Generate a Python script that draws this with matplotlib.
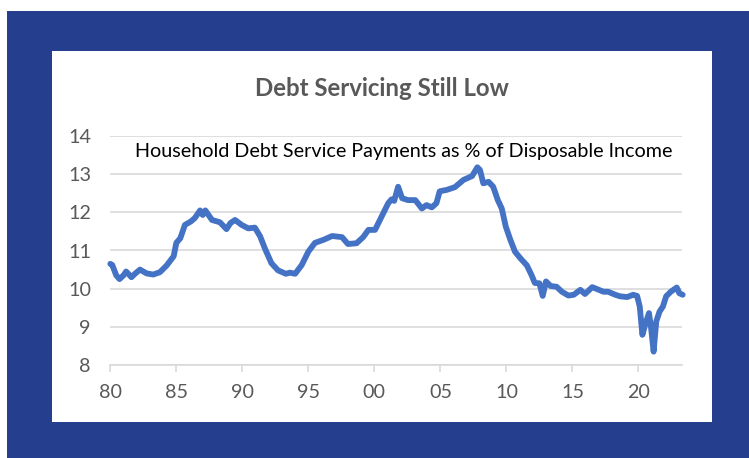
import matplotlib
matplotlib.use("Agg")
import matplotlib.pyplot as plt
from matplotlib.patches import Rectangle

# ---- data ----
years = [1980.0, 1980.15, 1980.45, 1980.7, 1981.0, 1981.2, 1981.6, 1981.9, 1982.25, 1982.75,
         1983.25, 1983.75, 1984.25, 1984.8, 1985.0, 1985.3, 1985.65, 1986.1, 1986.4, 1986.8,
         1987.0, 1987.2, 1987.7, 1988.3, 1988.8, 1989.1, 1989.45, 1989.95, 1990.45, 1990.95,
         1991.35, 1991.7, 1992.2, 1992.7, 1993.3, 1993.6, 1994.0, 1994.5, 1995.0, 1995.5,
         1996.15, 1996.8, 1997.55, 1998.0, 1998.65, 1999.15, 1999.55, 2000.05, 2000.55, 2001.05,
         2001.3, 2001.5, 2001.8, 2002.1, 2002.55, 2003.1, 2003.6, 2003.95, 2004.35, 2004.7,
         2004.95, 2005.5, 2006.1, 2006.75, 2007.4, 2007.8, 2008.0, 2008.25, 2008.65, 2009.0,
         2009.35, 2009.65, 2009.95, 2010.3, 2010.65, 2011.05, 2011.55, 2011.9, 2012.15, 2012.5,
         2012.75, 2013.0, 2013.35, 2013.8, 2014.2, 2014.7, 2015.1, 2015.6, 2015.95, 2016.5,
         2017.0, 2017.35, 2017.7, 2018.25, 2018.6, 2019.15, 2019.6, 2019.9, 2020.1, 2020.3,
         2020.55, 2020.8, 2020.95, 2021.15, 2021.35, 2021.6, 2021.85, 2022.1, 2022.45, 2022.9,
         2023.1, 2023.35]
values = [10.65, 10.62, 10.35, 10.25, 10.35, 10.45, 10.30, 10.40, 10.50, 10.40,
          10.37, 10.43, 10.60, 10.85, 11.20, 11.32, 11.67, 11.76, 11.85, 12.05,
          11.93, 12.05, 11.80, 11.74, 11.56, 11.72, 11.80, 11.67, 11.58, 11.60,
          11.37, 11.06, 10.67, 10.48, 10.39, 10.42, 10.39, 10.62, 10.97, 11.20,
          11.28, 11.38, 11.35, 11.17, 11.19, 11.35, 11.54, 11.54, 11.89, 12.24,
          12.34, 12.30, 12.67, 12.37, 12.32, 12.32, 12.10, 12.19, 12.13, 12.24,
          12.55, 12.59, 12.66, 12.85, 12.95, 13.18, 13.11, 12.76, 12.80, 12.67,
          12.32, 12.10, 11.63, 11.28, 10.97, 10.80, 10.61, 10.36, 10.15, 10.14,
          9.81, 10.19, 10.07, 10.05, 9.92, 9.82, 9.84, 9.97, 9.86, 10.04,
          9.97, 9.92, 9.92, 9.84, 9.80, 9.78, 9.84, 9.81, 9.53, 8.79,
          9.10, 9.36, 9.00, 8.35, 9.14, 9.40, 9.53, 9.80, 9.92, 10.03,
          9.88, 9.84]

xtick_years = [1980, 1985, 1990, 1995, 2000, 2005, 2010, 2015, 2020]
xtick_labels = ["80", "85", "90", "95", "00", "05", "10", "15", "20"]
yticks = [8, 9, 10, 11, 12, 13, 14]

title = "Debt Servicing Still Low"
subtitle = "Household Debt Service Payments as % of Disposable Income"

# ---- layout ----
W, H = 749, 458
DPI = 100
FONT = ["Lato", "DejaVu Sans"]
BLUE = "#253F8E"
LINE = "#4472C4"
GREY = "#595959"
GRID = "#D9D9D9"

fig = plt.figure(figsize=(W / DPI, H / DPI), dpi=DPI, facecolor="white")

def fx(px):
    return px / W

def fy(py):
    return 1 - py / H

# blue frame and white panel
fig.patches.append(Rectangle((fx(7), 0), 1 - fx(7), fy(11), transform=fig.transFigure,
                             facecolor=BLUE, edgecolor="none", zorder=0))
fig.patches.append(Rectangle((fx(52), fy(422)), fx(712) - fx(52), fy(51) - fy(422),
                             transform=fig.transFigure, facecolor="white", edgecolor="none", zorder=1))

ax_l, ax_r, ax_t, ax_b = 110.3, 682, 136, 365
ax = fig.add_axes([fx(ax_l), fy(ax_b), fx(ax_r) - fx(ax_l), fy(ax_t) - fy(ax_b)])
ax.set_facecolor("none")
ax.set_zorder(2)

ax.plot(years, values, color=LINE, linewidth=4.2, solid_capstyle="round",
        solid_joinstyle="round", zorder=3, clip_on=False)

ax.set_xlim(1980, 2023.3)
ax.set_ylim(8, 14)
ax.set_yticks(yticks)
ax.set_yticklabels([str(v) for v in yticks])
ax.set_xticks(xtick_years)
ax.set_xticklabels(xtick_labels)

ax.grid(axis="y", color=GRID, linewidth=1.2)
ax.set_axisbelow(True)
for s in ["top", "right", "left"]:
    ax.spines[s].set_visible(False)
ax.spines["bottom"].set_color(GRID)
ax.spines["bottom"].set_linewidth(1.2)

TS = 14.2
ax.tick_params(axis="y", length=0, pad=14, labelsize=TS, labelcolor=GREY)
ax.tick_params(axis="x", length=5, width=1.2, color=GRID, direction="out", pad=9,
               labelsize=TS, labelcolor=GREY)
for lab in ax.get_xticklabels() + ax.get_yticklabels():
    lab.set_family(FONT)

# texts, fitted to the reference widths
t1 = fig.text(fx(382), fy(88), title, ha="center", va="center", fontsize=15,
              fontweight="bold", color=GREY, family=FONT, zorder=5)
t2 = fig.text(fx(404), fy(152), subtitle, ha="center", va="center", fontsize=13,
              color="black", family=FONT, zorder=5)

fig.canvas.draw()
r = fig.canvas.get_renderer()
for t, target in [(t1, 255), (t2, 536)]:
    w = t.get_window_extent(r).width
    t.set_fontsize(t.get_fontsize() * target / w)

fig.savefig("out.png", dpi=DPI, facecolor="white")
